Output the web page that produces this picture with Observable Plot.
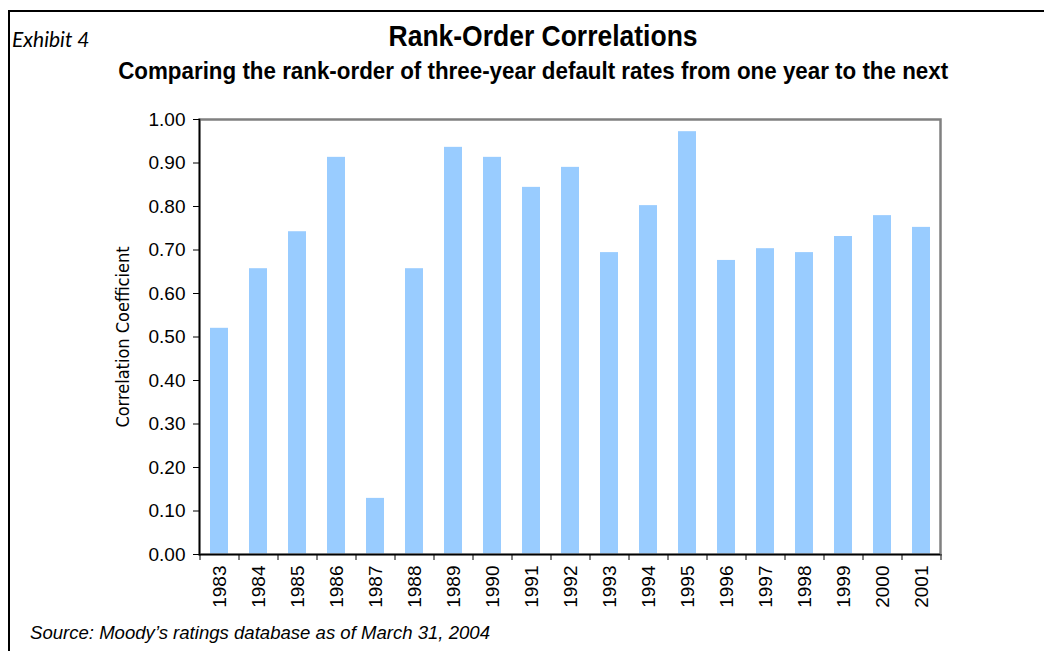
<!DOCTYPE html>
<html>
<head>
<meta charset="utf-8">
<script src="https://cdn.jsdelivr.net/npm/d3@7"></script>
<script src="https://cdn.jsdelivr.net/npm/@observablehq/plot@0.6"></script>
<style>
  html, body { margin: 0; padding: 0; background: #fff; }
  #page { position: relative; width: 1044px; height: 651px; overflow: hidden; background: #fff; }
  #border { position: absolute; left: 8px; top: 10px; width: 1100px; height: 700px; border-top: 2px solid #000; border-left: 2px solid #000; }
  .t { position: absolute; white-space: nowrap; color: #000; }
  .fit { display: inline-block; transform-origin: 50% 50%; }
  #exhibit { left: 12px; top: 26px; font-family: Lato, "Noto Sans", sans-serif; font-style: italic; font-size: 21px; }
  #title { left: 0; width: 1086px; text-align: center; top: 19px; font-family: "Liberation Sans", Arial, sans-serif; font-weight: bold; font-size: 30px; line-height: 34px; }
  #subtitle { left: 0; width: 1066px; text-align: center; top: 58px; font-family: "Liberation Sans", Arial, sans-serif; font-weight: bold; font-size: 23.5px; line-height: 27px; }
  #source { left: 30px; top: 622px; font-family: "Liberation Sans", Arial, sans-serif; font-style: italic; font-size: 18.5px; }
  #chart { position: absolute; left: 0; top: 0; }
</style>
</head>
<body>
<div id="page">
  <div id="border"></div>
  <div id="chart"></div>
  <div class="t" id="exhibit">Exhibit 4</div>
  <div class="t" id="title"><span class="fit" data-w="309">Rank-Order Correlations</span></div>
  <div class="t" id="subtitle"><span class="fit" data-w="830">Comparing the rank-order of three-year default rates from one year to the next</span></div>
  <div class="t" id="source"><span class="fit" data-w="460" style="transform-origin: 0 50%;">Source: Moody’s ratings database as of March 31, 2004</span></div>
</div>
<script>
const years = ["1983","1984","1985","1986","1987","1988","1989","1990","1991","1992","1993","1994","1995","1996","1997","1998","1999","2000","2001"];
const correlations = [0.52,0.657,0.742,0.913,0.129,0.657,0.936,0.913,0.844,0.89,0.694,0.802,0.972,0.676,0.703,0.694,0.731,0.779,0.752];
const yTicks = [0,0.1,0.2,0.3,0.4,0.5,0.6,0.7,0.8,0.9,1.0];

const data = years.map((y, i) => ({year: y, value: correlations[i]}));

const W = 1044, H = 651;
const mL = 199, mR = 104, mT = 119, mB = 97;
const halfStep = (W - mL - mR) / years.length / 2;

const chart = Plot.plot({
  width: W,
  height: H,
  marginLeft: mL,
  marginRight: mR,
  marginTop: mT,
  marginBottom: mB,
  style: {fontFamily: "'Liberation Sans', Arial, sans-serif", fontSize: "19px", color: "#000", background: "transparent"},
  x: {domain: years, paddingInner: 0.54, paddingOuter: 0.27, label: null},
  y: {domain: [0, 1], label: null},
  marks: [
    Plot.barY(data, {x: "year", y: "value", fill: "#99CCFF"}),
    Plot.frame({stroke: "#808080", strokeWidth: 2.5}),
    Plot.ruleY([0], {stroke: "#000", strokeWidth: 1.5}),
    Plot.frame({anchor: "left", stroke: "#000", strokeWidth: 1.5}),
    Plot.axisY({ticks: yTicks, tickFormat: d3.format(".2f"), tickSize: 6, tickPadding: 8, stroke: "#000", label: null}),
    Plot.axisY({ticks: [], label: "Correlation Coefficient", labelAnchor: "center", labelArrow: "none", labelOffset: 83, fontFamily: "'DejaVu Sans Condensed', 'Liberation Sans', sans-serif", fontSize: 18}),
    Plot.axisX({ticks: years, tickFormat: null, tickSize: 6, dx: -halfStep, stroke: "#000", label: null}),
    Plot.axisX({ticks: [years[years.length - 1]], tickFormat: null, tickSize: 6, dx: halfStep, stroke: "#000", label: null}),
    Plot.axisX({ticks: years, tickSize: 0, tickPadding: 11, tickRotate: -90, label: null})
  ]
});
document.getElementById("chart").appendChild(chart);

document.querySelectorAll(".fit").forEach(el => {
  const natural = el.getBoundingClientRect().width;
  const target = +el.dataset.w;
  if (natural > 0) el.style.transform = `scaleX(${target / natural})`;
});
</script>
</body>
</html>
